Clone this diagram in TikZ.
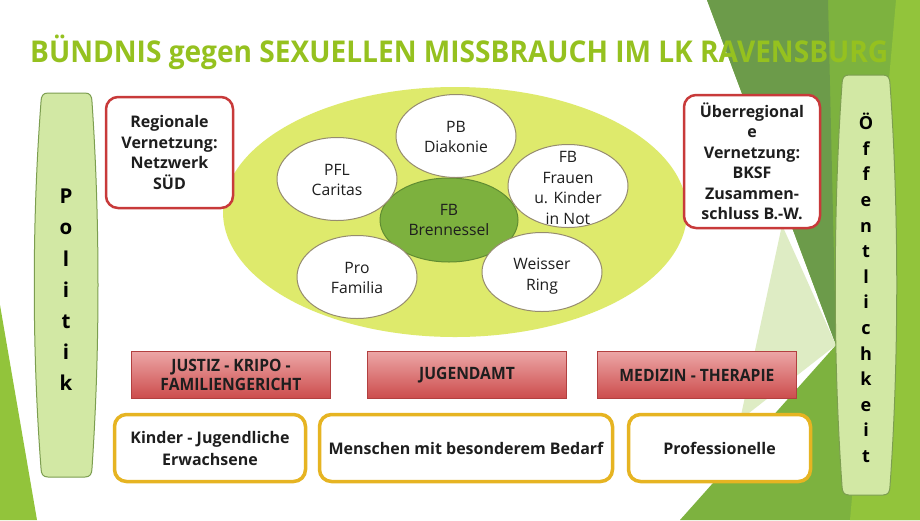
\documentclass[tikz,border=0pt]{standalone}
\usepackage{fontspec}
\setmainfont{Open Sans}
\newfontfamily\barfont[FakeStretch=0.92]{Open Sans}
\usepackage{graphicx}
\usepackage{tikz}
\usetikzlibrary{shapes.geometric, positioning, calc}
\definecolor{TitleLime}{RGB}{149,193,31}
\definecolor{LeafDark}{RGB}{108,155,74}
\definecolor{LeafMid}{RGB}{125,178,63}
\definecolor{LeafLime}{RGB}{146,196,59}
\definecolor{LeafPale}{RGB}{222,236,196}
\definecolor{PillFill}{RGB}{210,232,164}
\definecolor{PillLine}{RGB}{124,158,80}
\definecolor{BigEll}{RGB}{222,234,108}
\definecolor{NettleGreen}{RGB}{125,177,62}
\definecolor{NettleLine}{RGB}{96,140,50}
\definecolor{EllLine}{RGB}{150,140,110}
\definecolor{FrameRed}{RGB}{200,58,58}
\definecolor{BarTop}{RGB}{236,166,166}
\definecolor{BarBottom}{RGB}{204,76,76}
\definecolor{BarLine}{RGB}{178,64,64}
\definecolor{FrameGold}{RGB}{230,180,34}
\definecolor{TextDark}{RGB}{30,30,30}

\begin{document}
\begin{tikzpicture}[x=1pt, y=-1pt,
    titletext/.style={inner sep=0pt, text=TitleLime, font=\fontsize{30}{30}\selectfont\bfseries},
    netbox/.style={draw=FrameRed, line width=2.5pt, fill=white, rounded corners=12pt, align=center, text=TextDark, font=\fontsize{16}{20.5}\selectfont\bfseries},
    bigell/.style={ellipse, fill=BigEll, minimum width=464pt, minimum height=250pt},
    smallell/.style={ellipse, draw=EllLine, line width=1pt, fill=white, minimum width=120pt, minimum height=83pt},
    nettle/.style={ellipse, draw=NettleLine, line width=1pt, fill=NettleGreen, minimum width=138pt, minimum height=84pt},
    elltext/.style={align=center, inner sep=0pt, text=TextDark, font=\fontsize{15.7}{20.5}\selectfont},
    barbox/.style={draw=BarLine, line width=0.8pt, top color=BarTop, bottom color=BarBottom, minimum width=199pt, minimum height=47pt, align=center, text=TextDark, font=\barfont\fontsize{17}{19.5}\selectfont\bfseries},
    groupbox/.style={draw=FrameGold, line width=3.5pt, fill=white, rounded corners=12pt, minimum height=67pt, align=center, text=TextDark, font=\fontsize{16}{22}\selectfont\bfseries},
    pillbody/.style={fill=PillFill, draw=PillLine, line width=1pt},
    pilltext/.style={align=center, inner sep=0pt, text=black, font=\fontsize{20.5}{31.2}\selectfont\bfseries}
  ]
    \useasboundingbox (0,0) rectangle (920,520);
    \fill[white] (0,0) rectangle (920,520);

    % background facets
    \fill[LeafMid] (707,0) -- (920,0) -- (920,520) -- (680,520) -- (836,345) -- cycle;
    \fill[LeafDark] (707,0) -- (828,0) -- (836,345) -- cycle;
    \fill[LeafLime] (896,0) -- (920,0) -- (920,520) -- (850,520) -- cycle;
    \fill[LeafPale] (782,225) -- (836,345) -- (740,420) -- cycle;
    \fill[LeafLime] (0,305) -- (37,520) -- (0,520) -- cycle;

    % title
    \node[titletext, anchor=base west] (titel) at (30,62)
      {\resizebox{858pt}{\height}{BÜNDNIS gegen SEXUELLEN MISSBRAUCH IM LK RAVENSBURG}};

    % network ellipses
    \node[bigell] (buendnis) at (455,212) {};
    \node[nettle] (nessel) at (449,220) {};
    \node[smallell] (diakonie) at (456,136) {};
    \node[smallell] (caritas) at (337,179) {};
    \node[smallell] (frauen) at (568,186) {};
    \node[smallell] (familia) at (357,277) {};
    \node[smallell, minimum height=79pt] (ring) at (542,272) {};
    \node[elltext] (nesselt) at (nessel) {FB\\Brennessel};
    \node[elltext] (diakoniet) at (456,137) {PB\\Diakonie};
    \node[elltext] (caritast) at (337,180) {PFL\\Caritas};
    \node[elltext] (frauent) at (568,188) {FB\\Frauen\\u. Kinder\\in Not};
    \node[elltext] (familiat) at (357,278) {Pro\\Familia};
    \node[elltext] (ringt) at (542,276) {Weisser\\Ring};

    % networks
    \node[netbox, minimum width=127pt, minimum height=111pt] (regional) at (169.5,152.5)
      {Regionale\\Vernetzung:\\Netzwerk\\SÜD};
    \node[netbox, minimum width=136pt, minimum height=133pt] (ueberregional) at (752,161.5)
      {Überregional\\e\\Vernetzung:\\BKSF\\Zusammen-\\schluss B.-W.};

    % institutions
    \node[barbox] (justiz) at (231,375) {JUSTIZ - KRIPO -\\FAMILIENGERICHT};
    \node[barbox] (jugendamt) at (467,375) {JUGENDAMT};
    \node[barbox] (medizin) at (697,375) {MEDIZIN - THERAPIE};

    % target groups
    \node[groupbox, minimum width=191pt] (kinder) at (210,448) {Kinder - Jugendliche\\Erwachsene};
    \node[groupbox, minimum width=293pt] (menschen) at (466,448) {Menschen mit besonderem Bedarf};
    \node[groupbox, minimum width=182pt] (profis) at (719.5,448) {Professionelle};

    % side pills
    \filldraw[pillbody] (48,93) -- (85,93) .. controls (90,93) and (92,96) .. (92,102)
      .. controls (100,220) and (100,350) .. (92,468) .. controls (92,474) and (90,477) .. (85,477)
      -- (48,477) .. controls (43,477) and (41,474) .. (41,468)
      .. controls (32,350) and (32,220) .. (41,102) .. controls (41,96) and (43,93) .. (48,93) -- cycle;
    \node[pilltext] (politik) at (66,290) {P\\o\\l\\i\\t\\i\\k};

    \filldraw[pillbody] (849,75) -- (883,75) .. controls (888,75) and (890,78) .. (890,84)
      .. controls (899,210) and (899,360) .. (890,486) .. controls (890,492) and (888,495) .. (883,495)
      -- (849,495) .. controls (844,495) and (842,492) .. (842,486)
      .. controls (833,360) and (833,210) .. (842,84) .. controls (842,78) and (844,75) .. (849,75) -- cycle;
    \node[pilltext, font=\fontsize{18}{25.6}\selectfont\bfseries] (oeffentlichkeit) at (866,288)
      {Ö\\f\\f\\e\\n\\t\\l\\i\\c\\h\\k\\e\\i\\t};
  \end{tikzpicture}
\end{document}
